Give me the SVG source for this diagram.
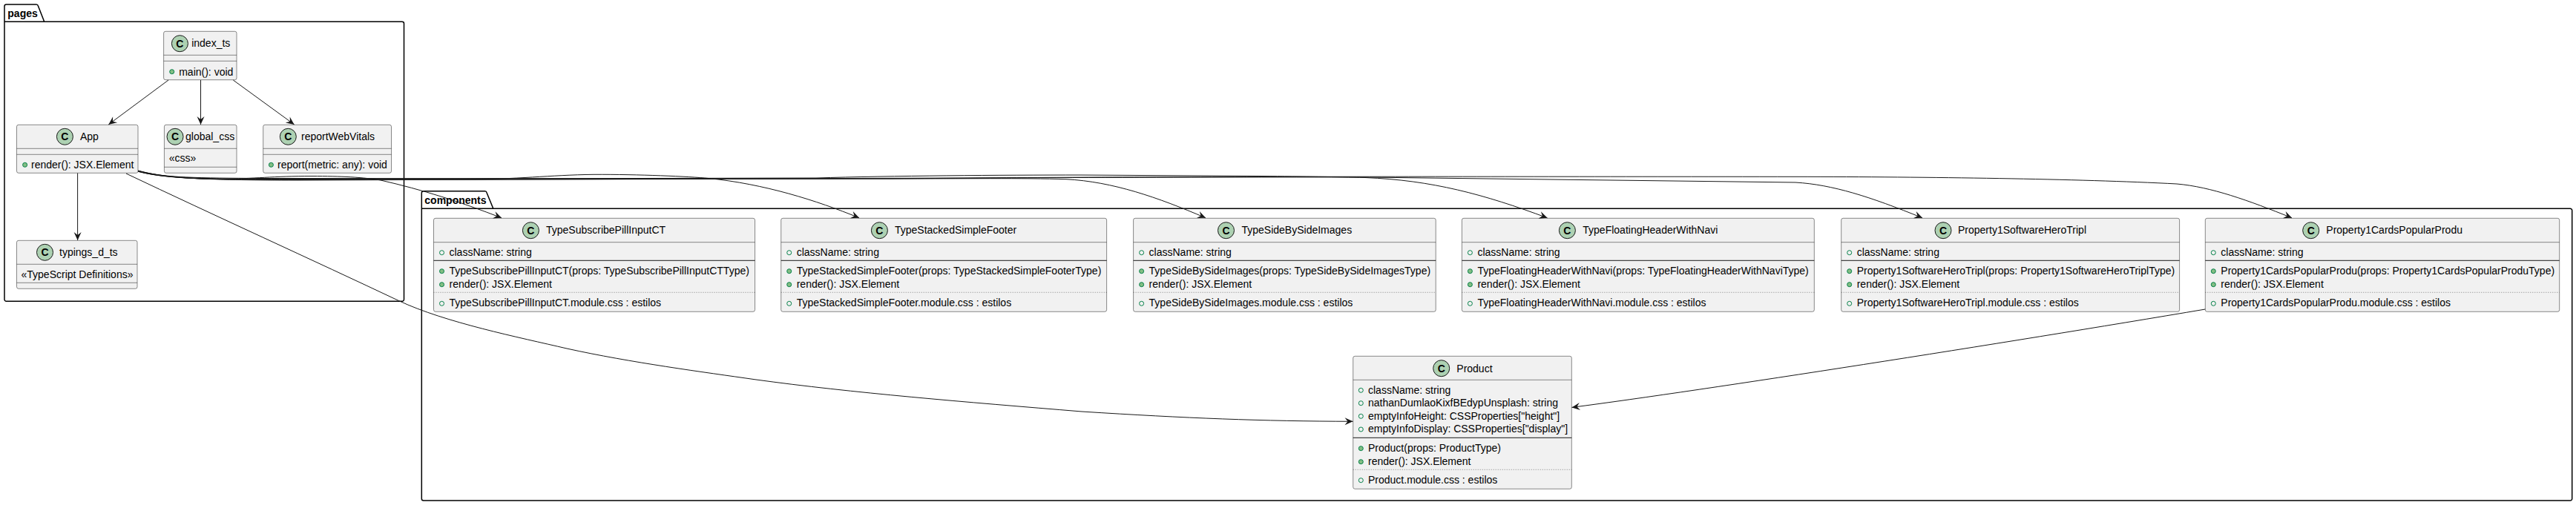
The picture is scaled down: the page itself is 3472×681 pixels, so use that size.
<svg xmlns="http://www.w3.org/2000/svg" width="3472" height="681" viewBox="0 0 3472 681">
<style>
text{font-family:"Liberation Sans",Arial,sans-serif;font-size:14px;fill:#000}
.pk{fill:none;stroke:#000;stroke-width:1.5}
.lb{font-weight:bold}
.b{fill:#F1F1F1;stroke:#181818;stroke-width:.5}
.s{stroke:#181818;stroke-width:.5;fill:none}
.d{stroke:#000;stroke-width:.9;fill:none}
.o{stroke:#181818;stroke-width:.5;stroke-dasharray:1,2;fill:none}
.i{fill:#ADD1B2;stroke:#181818;stroke-width:1}
.c{font-weight:bold;text-anchor:middle}
.f{fill:none;stroke:#038048;stroke-width:1}
.m{fill:#84BE84;stroke:#038048;stroke-width:1}
.e{fill:none;stroke:#181818;stroke-width:1;marker-end:url(#a)}
</style>
<defs>
<marker id="a" markerUnits="userSpaceOnUse" markerWidth="11" markerHeight="10" refX="11" refY="5" orient="auto" overflow="visible"><path d="M0 0L11 5L0 10L4 5Z" fill="#181818"/></marker>
</defs>
<g id="pkg-pages"><path class="pk" d="M6 29.3V8.5A2.5 2.5 0 0 1 8.5 6H49A2.5 2.5 0 0 1 51.4 8L59.7 29.3H542A2.5 2.5 0 0 1 544.5 31.8V403.8A2.5 2.5 0 0 1 542 406.3H8.5A2.5 2.5 0 0 1 6 403.8ZM6 29.3H59.7"/><text class="lb" x="10.3" y="22.7">pages</text></g>
<g id="pkg-components"><path class="pk" d="M568.3 281.3V260.2A2.5 2.5 0 0 1 570.8 257.7H653.5A2.5 2.5 0 0 1 656 259.7L664.8 281.3H3464.2A2.5 2.5 0 0 1 3466.7 283.8V672.5A2.5 2.5 0 0 1 3464.2 675H570.8A2.5 2.5 0 0 1 568.3 672.5ZM568.3 281.3H664.8"/><text class="lb" x="572.3" y="275">components</text></g>

<g id="index_ts"><rect class="b" x="220.6" y="42.3" width="98.4" height="65.4" rx="2.5"/><path class="s" d="M220.6 74.3H319M220.6 82.3H319"/><circle class="i" cx="242.4" cy="58.7" r="11"/><text class="c" x="242.4" y="63.7">C</text><text x="258.2" y="63.3">index_ts</text><circle class="m" cx="231.7" cy="96.7" r="3"/><text x="241.2" y="101.7">main(): void</text></g>
<g id="App"><rect class="b" x="22.5" y="168.3" width="163.5" height="65" rx="2.5"/><path class="s" d="M22.5 200.3H186M22.5 208.3H186"/><circle class="i" cx="87.4" cy="184.3" r="11"/><text class="c" x="87.4" y="189.3">C</text><text x="108" y="189.3">App</text><circle class="m" cx="33.6" cy="222.3" r="3"/><text x="42" y="227">render(): JSX.Element</text></g>
<g id="global_css"><rect class="b" x="221.4" y="168.3" width="97.6" height="65" rx="2.5"/><path class="s" d="M221.4 200.3H319M221.4 225.3H319"/><circle class="i" cx="236" cy="184.3" r="11"/><text class="c" x="236" y="189.3">C</text><text x="250" y="189.3">global_css</text><text x="227.8" y="218.3">«css»</text></g>
<g id="reportWebVitals"><rect class="b" x="354.7" y="168.3" width="172.8" height="65" rx="2.5"/><path class="s" d="M354.7 200.3H527.5M354.7 208.3H527.5"/><circle class="i" cx="388.3" cy="184.3" r="11"/><text class="c" x="388.3" y="189.3">C</text><text x="406" y="189.3">reportWebVitals</text><circle class="m" cx="365.4" cy="222.3" r="3"/><text x="374" y="227">report(metric: any): void</text></g>
<g id="typings_d_ts"><rect class="b" x="22.5" y="324.3" width="162.5" height="65" rx="2.5"/><path class="s" d="M22.5 356.3H185M22.5 381.3H185"/><circle class="i" cx="60.5" cy="340.3" r="11"/><text class="c" x="60.5" y="345.3">C</text><text x="80" y="345.3">typings_d_ts</text><text x="28.5" y="375">«TypeScript Definitions»</text></g>

<g id="TypeSubscribePillInputCT"><rect class="b" x="584.5" y="294.3" width="433" height="126" rx="2.5"/><path class="s" d="M584.5 326.7H1017.5"/><path class="d" d="M584.5 351.3H1017.5"/><path class="o" d="M584.5 394.3H1017.5"/><circle class="i" cx="715.4" cy="310.7" r="11"/><text class="c" x="715.4" y="315.7">C</text><text x="736" y="315.3">TypeSubscribePillInputCT</text><circle class="f" cx="595.5" cy="340.7" r="3"/><text x="605.5" y="345">className: string</text><circle class="m" cx="595.5" cy="365.7" r="3"/><text x="605.5" y="370">TypeSubscribePillInputCT(props: TypeSubscribePillInputCTType)</text><circle class="m" cx="595.5" cy="383.7" r="3"/><text x="605.5" y="388">render(): JSX.Element</text><circle class="f" cx="595.5" cy="409.3" r="3"/><text x="605.5" y="413">TypeSubscribePillInputCT.module.css : estilos</text></g>
<g id="TypeStackedSimpleFooter"><rect class="b" x="1052.7" y="294.3" width="438.9" height="126" rx="2.5"/><path class="s" d="M1052.7 326.7H1491.6"/><path class="d" d="M1052.7 351.3H1491.6"/><path class="o" d="M1052.7 394.3H1491.6"/><circle class="i" cx="1185.4" cy="310.7" r="11"/><text class="c" x="1185.4" y="315.7">C</text><text x="1206" y="315.3">TypeStackedSimpleFooter</text><circle class="f" cx="1063.7" cy="340.7" r="3"/><text x="1073.7" y="345">className: string</text><circle class="m" cx="1063.7" cy="365.7" r="3"/><text x="1073.7" y="370">TypeStackedSimpleFooter(props: TypeStackedSimpleFooterType)</text><circle class="m" cx="1063.7" cy="383.7" r="3"/><text x="1073.7" y="388">render(): JSX.Element</text><circle class="f" cx="1063.7" cy="409.3" r="3"/><text x="1073.7" y="413">TypeStackedSimpleFooter.module.css : estilos</text></g>
<g id="TypeSideBySideImages"><rect class="b" x="1527.6" y="294.3" width="407.6" height="126" rx="2.5"/><path class="s" d="M1527.6 326.7H1935.2"/><path class="d" d="M1527.6 351.3H1935.2"/><path class="o" d="M1527.6 394.3H1935.2"/><circle class="i" cx="1652.5" cy="310.7" r="11"/><text class="c" x="1652.5" y="315.7">C</text><text x="1673.5" y="315.3">TypeSideBySideImages</text><circle class="f" cx="1538.6" cy="340.7" r="3"/><text x="1548.6" y="345">className: string</text><circle class="m" cx="1538.6" cy="365.7" r="3"/><text x="1548.6" y="370">TypeSideBySideImages(props: TypeSideBySideImagesType)</text><circle class="m" cx="1538.6" cy="383.7" r="3"/><text x="1548.6" y="388">render(): JSX.Element</text><circle class="f" cx="1538.6" cy="409.3" r="3"/><text x="1548.6" y="413">TypeSideBySideImages.module.css : estilos</text></g>
<g id="TypeFloatingHeaderWithNavi"><rect class="b" x="1970.4" y="294.3" width="474.9" height="126" rx="2.5"/><path class="s" d="M1970.4 326.7H2445.3"/><path class="d" d="M1970.4 351.3H2445.3"/><path class="o" d="M1970.4 394.3H2445.3"/><circle class="i" cx="2112.4" cy="310.7" r="11"/><text class="c" x="2112.4" y="315.7">C</text><text x="2133.3" y="315.3">TypeFloatingHeaderWithNavi</text><circle class="f" cx="1981.4" cy="340.7" r="3"/><text x="1991.4" y="345">className: string</text><circle class="m" cx="1981.4" cy="365.7" r="3"/><text x="1991.4" y="370">TypeFloatingHeaderWithNavi(props: TypeFloatingHeaderWithNaviType)</text><circle class="m" cx="1981.4" cy="383.7" r="3"/><text x="1991.4" y="388">render(): JSX.Element</text><circle class="f" cx="1981.4" cy="409.3" r="3"/><text x="1991.4" y="413">TypeFloatingHeaderWithNavi.module.css : estilos</text></g>
<g id="Property1SoftwareHeroTripl"><rect class="b" x="2481.7" y="294.3" width="455.9" height="126" rx="2.5"/><path class="s" d="M2481.7 326.7H2937.6"/><path class="d" d="M2481.7 351.3H2937.6"/><path class="o" d="M2481.7 394.3H2937.6"/><circle class="i" cx="2619" cy="310.7" r="11"/><text class="c" x="2619" y="315.7">C</text><text x="2639" y="315.3">Property1SoftwareHeroTripl</text><circle class="f" cx="2492.7" cy="340.7" r="3"/><text x="2502.7" y="345">className: string</text><circle class="m" cx="2492.7" cy="365.7" r="3"/><text x="2502.7" y="370">Property1SoftwareHeroTripl(props: Property1SoftwareHeroTriplType)</text><circle class="m" cx="2492.7" cy="383.7" r="3"/><text x="2502.7" y="388">render(): JSX.Element</text><circle class="f" cx="2492.7" cy="409.3" r="3"/><text x="2502.7" y="413">Property1SoftwareHeroTripl.module.css : estilos</text></g>
<g id="Property1CardsPopularProdu"><rect class="b" x="2972.3" y="294.3" width="477.4" height="126" rx="2.5"/><path class="s" d="M2972.3 326.7H3449.7"/><path class="d" d="M2972.3 351.3H3449.7"/><path class="o" d="M2972.3 394.3H3449.7"/><circle class="i" cx="3114.7" cy="310.7" r="11"/><text class="c" x="3114.7" y="315.7">C</text><text x="3135.3" y="315.3">Property1CardsPopularProdu</text><circle class="f" cx="2983.3" cy="340.7" r="3"/><text x="2993.3" y="345">className: string</text><circle class="m" cx="2983.3" cy="365.7" r="3"/><text x="2993.3" y="370">Property1CardsPopularProdu(props: Property1CardsPopularProduType)</text><circle class="m" cx="2983.3" cy="383.7" r="3"/><text x="2993.3" y="388">render(): JSX.Element</text><circle class="f" cx="2983.3" cy="409.3" r="3"/><text x="2993.3" y="413">Property1CardsPopularProdu.module.css : estilos</text></g>
<g id="Product"><rect class="b" x="1823.7" y="480.3" width="294.6" height="179" rx="2.5"/><path class="s" d="M1823.7 512.3H2118.3"/><path class="d" d="M1823.7 590.3H2118.3"/><path class="o" d="M1823.7 633.3H2118.3"/><circle class="i" cx="1942.7" cy="496.7" r="11"/><text class="c" x="1942.7" y="501.7">C</text><text x="1963.3" y="501.7">Product</text><circle class="f" cx="1834.3" cy="526.3" r="3"/><text x="1844" y="531">className: string</text><circle class="f" cx="1834.3" cy="543.7" r="3"/><text x="1844" y="548.3">nathanDumlaoKixfBEdypUnsplash: string</text><circle class="f" cx="1834.3" cy="561.3" r="3"/><text x="1844" y="566">emptyInfoHeight: CSSProperties["height"]</text><circle class="f" cx="1834.3" cy="579" r="3"/><text x="1844" y="583.3">emptyInfoDisplay: CSSProperties["display"]</text><circle class="m" cx="1834.3" cy="604.7" r="3"/><text x="1844" y="609.3">Product(props: ProductType)</text><circle class="m" cx="1834.3" cy="622.7" r="3"/><text x="1844" y="627">render(): JSX.Element</text><circle class="f" cx="1834.3" cy="647.7" r="3"/><text x="1844" y="652">Product.module.css : estilos</text></g>

<g id="connectors">
<path class="e" d="M227 108L146.3 167.9"/>
<path class="e" d="M270.5 108V168"/>
<path class="e" d="M314.3 108L396.6 167.9"/>
<path class="e" d="M104.6 233.5V324"/>
<path class="e" d="M170 234C290 291 420 350 537.8 405.7C600 435 700 455 764 470C850 489 950 502 1017 511.7C1150 530 1300 542 1458 555C1600 564 1700 568 1823.5 568.3"/>
<path class="e" d="M186 230C215 238 250 241 300 241.5C340 241 370 237.5 420 237.5C460 237.5 490 239 513 243C570 256 620 272 676 293.8"/>
<path class="e" d="M186 230.3C220 239 260 242 340 242L620 242C700 242 740 236 800 235.3C860 235 930 238 955 240.5C1030 248 1100 270 1158 293.8"/>
<path class="e" d="M186 230.5C220 240 270 240 350 240.5L1200 241C1300 241 1380 240 1437 241.7C1500 245 1560 266 1625 293.8"/>
<path class="e" d="M186 230.8C220 240.5 270 241.5 400 241.5L1100 240C1200 237 1350 236 1457 236L1700 237.5C1760 238 1800 238.5 1840 239.5C1930 243 2000 262 2085.5 293.8"/>
<path class="e" d="M186 231C220 241 280 242.5 400 242.5L1200 241C1300 240 1600 238.5 1840 239L2420 246C2470 249 2520 265 2591 293.8"/>
<path class="e" d="M186 231.3C225 241 290 243 400 243L1300 240C1600 238 1900 238 2420 238.3C2600 238.5 2800 241 2934 248C2980 252 3030 270 3089 293.8"/>
<path class="e" d="M2972.3 417C2700 463 2300 525.7 2118.5 549.4"/>
</g>
</svg>
